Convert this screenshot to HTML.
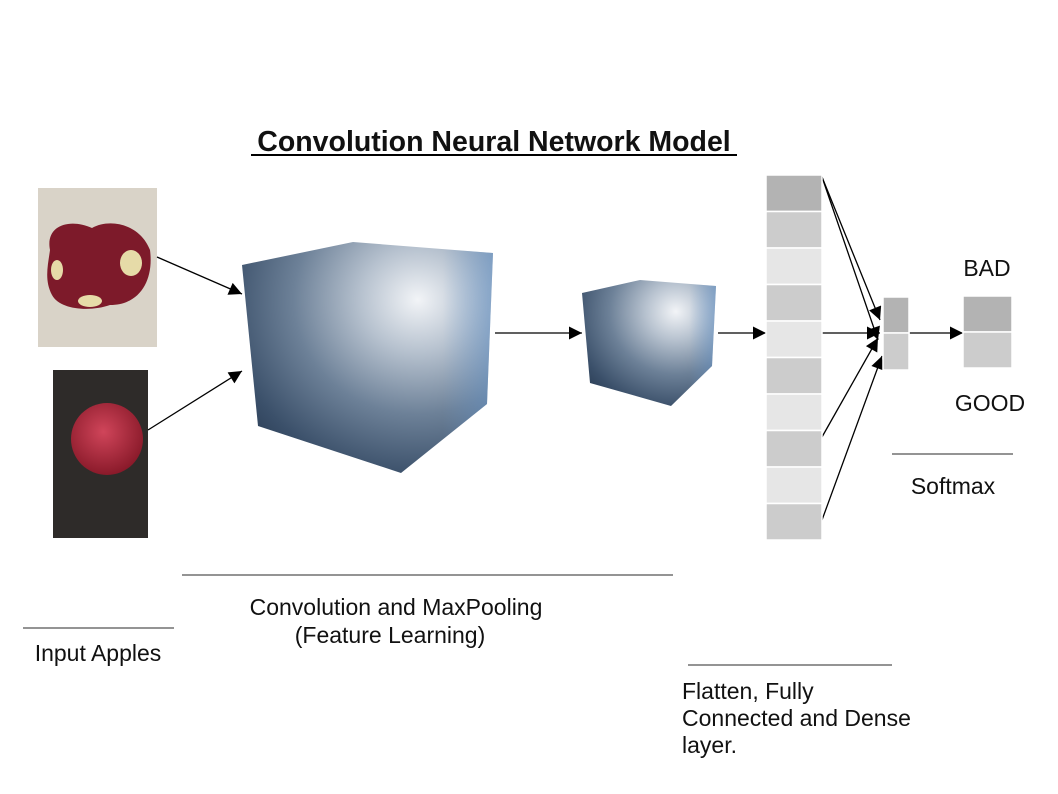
<!DOCTYPE html>
<html><head><meta charset="utf-8"><style>
body{margin:0;background:#fff;width:1058px;height:794px;overflow:hidden}
svg{display:block}
text{font-family:"Liberation Sans",sans-serif;fill:#111}
</style></head><body>
<svg width="1058" height="794" viewBox="0 0 1058 794">
<defs>
<marker id="b" viewBox="0 0 10 10" refX="10" refY="5" markerWidth="18" markerHeight="13" markerUnits="userSpaceOnUse" orient="auto"><path d="M0,0L10,5L0,10z" fill="#000"/></marker>
<radialGradient id="g" cx="0.7" cy="0.25" r="0.9">
<stop offset="0" stop-color="#f2f4f7"/><stop offset="0.25" stop-color="#b7c2cf"/><stop offset="0.55" stop-color="#6d8198"/><stop offset="0.85" stop-color="#3b506a"/><stop offset="1" stop-color="#2a3d55"/></radialGradient>
<linearGradient id="rb" x1="0" y1="0" x2="1" y2="0"><stop offset="0.8" stop-color="#6a9ad0" stop-opacity="0"/><stop offset="1" stop-color="#6a9ad0" stop-opacity="0.5"/></linearGradient>
<radialGradient id="ap" cx="0.45" cy="0.4" r="0.6"><stop offset="0" stop-color="#d0455a"/><stop offset="1" stop-color="#8a1a2a"/></radialGradient>
</defs>
<text x="494" y="151" font-size="28.5" font-weight="bold" text-anchor="middle">Convolution Neural Network Model</text>
<line x1="251" y1="155" x2="737" y2="155" stroke="#000" stroke-width="2"/>
<rect x="38" y="188" width="119" height="159" fill="#d9d3c8"/>
<path d="M50,250 C45,225 70,218 92,228 C110,218 140,224 150,250 C154,280 140,305 110,305 C90,312 60,310 52,295 C44,280 48,265 50,250Z" fill="#7d1a2a"/>
<ellipse cx="131" cy="263" rx="11" ry="13" fill="#e6dba8"/>
<ellipse cx="57" cy="270" rx="6" ry="10" fill="#e6dba8"/>
<ellipse cx="90" cy="301" rx="12" ry="6" fill="#e6dba8"/>
<rect x="53" y="370" width="95" height="168" fill="#2e2b29"/>
<circle cx="107" cy="439" r="36" fill="url(#ap)"/>
<polygon points="242,265 353,242 493,253 487,404 401,473 258,426" fill="url(#g)"/>
<polygon points="242,265 353,242 493,253 487,404 401,473 258,426" fill="url(#rb)"/>
<polygon points="582,293 640,280 716,286 712,366 671,406 590,383" fill="url(#g)"/>
<polygon points="582,293 640,280 716,286 712,366 671,406 590,383" fill="url(#rb)"/>
<g stroke="#000" stroke-width="1.3" fill="none">
<line x1="157" y1="257" x2="242" y2="294" marker-end="url(#b)"/>
<line x1="148" y1="430" x2="242" y2="371" marker-end="url(#b)"/>
<line x1="495" y1="333" x2="582" y2="333" marker-end="url(#b)"/>
<line x1="718" y1="333" x2="766" y2="333" marker-end="url(#b)"/>
<line x1="822" y1="333" x2="880" y2="333" marker-end="url(#b)"/>
<line x1="822" y1="177" x2="880" y2="320" marker-end="url(#b)"/>
<line x1="822" y1="177" x2="878" y2="340" marker-end="url(#b)"/>
<line x1="822" y1="437" x2="878" y2="338" marker-end="url(#b)"/>
<line x1="822" y1="520" x2="882" y2="356" marker-end="url(#b)"/>
<line x1="909" y1="333" x2="963" y2="333" marker-end="url(#b)"/>
</g>
<g stroke="#fff" stroke-width="1.5">
<rect x="766" y="175" width="56" height="36.5" fill="#b3b3b3"/>
<rect x="766" y="211.5" width="56" height="36.5" fill="#cccccc"/>
<rect x="766" y="248" width="56" height="36.5" fill="#e6e6e6"/>
<rect x="766" y="284.5" width="56" height="36.5" fill="#cccccc"/>
<rect x="766" y="321" width="56" height="36.5" fill="#e6e6e6"/>
<rect x="766" y="357.5" width="56" height="36.5" fill="#cccccc"/>
<rect x="766" y="394" width="56" height="36.5" fill="#e6e6e6"/>
<rect x="766" y="430.5" width="56" height="36.5" fill="#cccccc"/>
<rect x="766" y="467" width="56" height="36.5" fill="#e6e6e6"/>
<rect x="766" y="503.5" width="56" height="36.5" fill="#cccccc"/>
<rect x="883" y="297" width="26" height="36" fill="#b3b3b3"/>
<rect x="883" y="333" width="26" height="37" fill="#cccccc"/>
<rect x="963" y="296" width="49" height="36" fill="#b3b3b3"/>
<rect x="963" y="332" width="49" height="36" fill="#cccccc"/>
</g>
<g font-size="23">
<text x="987" y="276" text-anchor="middle">BAD</text>
<text x="990" y="411" text-anchor="middle">GOOD</text>
<text x="953" y="494" text-anchor="middle">Softmax</text>
<text x="396" y="615" text-anchor="middle">Convolution and MaxPooling</text>
<text x="390" y="643" text-anchor="middle">(Feature Learning)</text>
<text x="98" y="661" text-anchor="middle">Input Apples</text>
<text x="682" y="699">Flatten, Fully</text>
<text x="682" y="726">Connected and Dense</text>
<text x="682" y="753">layer.</text>
</g>
<line x1="892" y1="454" x2="1013" y2="454" stroke="#555" stroke-width="1.3"/>
<line x1="182" y1="575" x2="673" y2="575" stroke="#555" stroke-width="1.3"/>
<line x1="23" y1="628" x2="174" y2="628" stroke="#555" stroke-width="1.3"/>
<line x1="688" y1="665" x2="892" y2="665" stroke="#555" stroke-width="1.3"/>
</svg>
</body></html>
